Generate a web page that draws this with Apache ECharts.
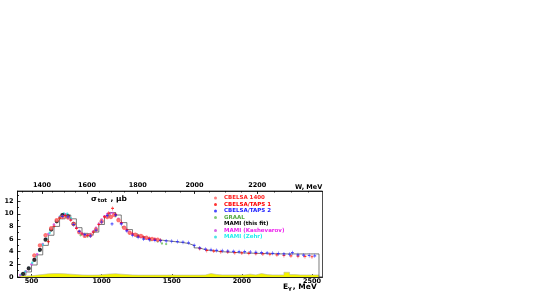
<!DOCTYPE html>
<html><head><meta charset="utf-8">
<script src="https://cdn.jsdelivr.net/npm/echarts@6/dist/echarts.min.js"></script>
<style>html,body{margin:0;padding:0;background:#fff}#c{width:548px;height:291px}</style>
</head><body><div id="c"></div>
<script>
// ---- axis ticks ----
const E_LABELS = [500, 1000, 1500, 2000, 2500];
const E_MINOR = [500,600,700,800,900,1000,1100,1200,1300,1400,1500,1600,1700,1800,1900,2000,2100,2200,2300,2400,2500];
const W_LABELS = [1400, 1600, 1800, 2000, 2200];
const W_MINOR = [1300,1350,1400,1450,1500,1550,1600,1650,1700,1750,1800,1850,1900,1950,2000,2050,2100,2150,2200,2250,2300,2350];
const Y_LABELS = [0, 2, 4, 6, 8, 10, 12];
const Y_MINOR = [1, 3, 5, 7, 9, 11, 13];

// ---- data (E_gamma MeV, sigma mub) ----
const kashE = [420,440,460,480,500,520,540,560,580,600,620,640,660,680,700,720,740,760,780,800,820,840,860,880,900,920,940,960,980,1000,1020,1040,1060,1080,1100,1120,1140,1160,1180,1200,1220,1240,1260,1280,1300,1320,1340,1360,1380,1400];
const kashV = [0.3,0.55,0.9,1.4,2.0,2.8,3.6,4.4,5.2,6.0,6.8,7.6,8.3,8.9,9.5,9.85,9.9,9.6,9.1,8.5,7.8,7.2,6.85,6.65,6.6,6.8,7.2,7.8,8.4,9.1,9.6,9.95,10.1,10.1,9.8,9.2,8.5,7.9,7.4,7.05,6.8,6.6,6.45,6.3,6.2,6.1,6.0,5.95,5.9,5.85];

const zehrE = [430,455,480,505,530,555,580,605,630,655,680,705,730,755,780];
const zehrV = [0.45,0.85,1.45,2.25,3.25,4.15,5.1,6.05,7.0,7.9,8.8,9.6,10.05,10.0,9.3];

const fitE = [440,480,520,560,600,640,680,720,760,800];
const fitV = [0.5,1.35,2.7,4.3,5.9,7.5,8.8,9.8,9.6,8.4];

const graalE = [700,750,800,850,900,950,1000,1050,1100,1150,1200,1250,1300,1350,1400,1430,1460];
const graalV = [9.3,9.6,8.2,6.6,6.4,7.2,8.7,9.8,9.6,7.9,6.9,6.4,6.1,5.8,5.6,5.3,5.2];

const cb1400E = [520,560,600,640,680,720,760,800,840,880,920,960,1000,1040,1066,1090,1120,1160,1200,1240,1280,1320,1360,1400];
const cb1400V = [3.4,5.0,6.6,7.7,9.0,9.5,9.4,8.4,7.1,6.5,6.6,7.5,8.8,9.5,9.5,9.8,9.0,7.8,7.0,6.7,6.5,6.2,6.0,5.9];

const taps1E = [620,660,700,740,780,820,860,900,940,980,1020,1050,1078,1100,1140,1180,1220,1260,1300,1340,1380,1420,1700,1750,1800,1850,1900,1950,2000,2050,2100,2150,2200,2250,2300,2350,2400,2450,2500];
const taps1V = [5.6,8.0,9.3,9.7,9.0,7.7,6.8,6.6,7.1,8.3,9.5,10.1,10.85,9.9,8.6,7.5,6.8,6.5,6.3,6.1,6.0,5.8,4.5,4.2,4.1,4.0,3.95,3.85,3.8,3.75,3.7,3.65,3.6,3.5,3.4,3.35,3.3,3.25,3.2];

const taps2E = [720,760,800,840,880,920,960,1000,1040,1074,1100,1140,1180,1220,1260,1300,1340,1380,1420,1460,1500,1540,1580,1620,1660,1700,1740,1780,1820,1860,1900,1940,1980,2020,2060,2100,2140,2180,2220,2260,2300,2340,2360,2400,2440,2480,2520];
const taps2V = [9.6,9.5,8.3,7.2,6.7,6.5,7.4,8.7,9.7,8.4,9.8,8.4,7.3,6.6,6.3,6.0,5.9,5.8,5.75,5.7,5.65,5.6,5.5,5.4,5.0,4.6,4.4,4.3,4.2,4.15,4.1,4.05,4.0,4.0,3.95,3.9,3.85,3.8,3.75,3.7,3.65,3.6,3.85,3.5,3.45,3.4,3.35];

const histE = [420,460,500,540,580,620,660,700,740,780,820,860,900,940,980,1020,1060,1100,1140,1180,1220,1260,1300,1340,1380,1420,1460,1500,1540,1580,1620,1660,1700,1740,1780,1820,1860,1900,1940,1980,2020,2060,2100,2140,2180,2220,2260,2300,2340,2380,2420,2460,2500,2550];
const histV = [0.3,0.8,1.9,3.5,5.0,6.6,8.0,9.2,9.8,9.2,7.8,6.9,6.6,7.1,8.3,9.5,10.2,9.8,8.6,7.5,6.8,6.4,6.15,6.0,5.85,5.75,5.65,5.55,5.45,5.3,5.0,4.6,4.3,4.2,4.1,4.0,3.95,3.9,3.85,3.8,3.78,3.75,3.72,3.7,3.68,3.66,3.65,3.65,3.65,3.65,3.65,3.65,3.65,0];

const sysE = [420,460,500,540,580,620,660,700,740,780,820,860,900,940,980,1020,1060,1100,1140,1180,1220,1260,1300,1340,1380,1420,1460,1500,1540,1580,1620,1660,1700,1740,1780,1820,1860,1900,1940,1980,2020,2060,2100,2140,2180,2220,2260,2300,2340,2380,2420,2460,2500,2550];
const sysV = [0.15,0.2,0.3,0.4,0.5,0.55,0.55,0.5,0.45,0.38,0.33,0.3,0.3,0.32,0.4,0.48,0.52,0.45,0.38,0.33,0.3,0.3,0.3,0.3,0.3,0.3,0.32,0.3,0.3,0.3,0.3,0.3,0.32,0.55,0.4,0.33,0.33,0.33,0.33,0.33,0.45,0.33,0.55,0.38,0.33,0.33,0.33,0.75,0.38,0.33,0.33,0.33,0.33,0];

// ---- helpers ----
const MP = 938.27;
const eOfW = w => (w * w - MP * MP) / (2 * MP);
const wOfE = e => Math.sqrt(MP * MP + 2 * MP * e);
const zip = (a, b) => a.map((x, i) => [x, b[i]]);

const FONT = 'DejaVu Sans';
const lab = { fontFamily: FONT, fontWeight: 'bold', fontSize: 6.5, color: '#000' };
const PLUS = 'path://M4,0h2v10h-2zM0,3.5h10v3h-10z';
const X0 = 400, X1 = 2575, Y1 = 13.6;

function baseX(extra) {
  return Object.assign({
    type: 'value', min: X0, max: X1, gridIndex: 0,
    splitLine: { show: false },
    axisLine: { show: false },
    axisLabel: { show: false },
    axisTick: { show: false }
  }, extra);
}

const option = {
  animation: false,
  backgroundColor: '#fff',
  grid: { left: 17.5, right: 225.5, top: 191, bottom: 14, show: true, borderColor: '#222', borderWidth: 0.8, backgroundColor: 'transparent' },
  title: [
    { left: 86, top: 189, text: '{a|σ}{s|tot}{a| , μb}',
      textStyle: { rich: {
        a: { fontFamily: FONT, fontWeight: 'bold', fontSize: 7.5, color: '#000', lineHeight: 10 },
        s: { fontFamily: FONT, fontWeight: 'bold', fontSize: 5.5, color: '#000', lineHeight: 10, padding: [3, 1, 0, 1] } } } },
    { left: 278, top: 277, text: '{a|E}{s|γ}{a|, MeV}',
      textStyle: { rich: {
        a: { fontFamily: FONT, fontWeight: 'bold', fontSize: 7.5, color: '#000', lineHeight: 10 },
        s: { fontFamily: FONT, fontWeight: 'bold', fontSize: 5.5, color: '#000', lineHeight: 10, padding: [3, 1, 0, 0] } } } },
    { left: 290, top: 179, text: 'W, MeV', textStyle: { fontFamily: FONT, fontWeight: 'bold', fontSize: 6.5, color: '#000' } }
  ],
  legend: {
    orient: 'vertical', left: 213, top: 195, itemWidth: 3, itemHeight: 3, itemGap: 0.5,
    padding: 0,
    itemStyle: { borderWidth: 0 },
    textStyle: { fontFamily: FONT, fontWeight: 'bold', fontSize: 5.5, lineHeight: 3.8, padding: [0, 0, 0, 2] },
    data: [
      { name: 'CBELSA 1400', icon: 'circle', itemStyle: { color: '#ff6060', borderWidth: 0 }, textStyle: { color: '#ff2020' } },
      { name: 'CBELSA/TAPS 1', icon: 'circle', itemStyle: { color: '#ff0000', borderWidth: 0 }, textStyle: { color: '#ff0000' } },
      { name: 'CBELSA/TAPS 2', icon: 'circle', itemStyle: { color: '#1a1aff', borderWidth: 0 }, textStyle: { color: '#1a1aff' } },
      { name: 'GRAAL', icon: 'circle', itemStyle: { color: '#66bb55', borderWidth: 0 }, textStyle: { color: '#55aa44' } },
      { name: 'MAMI (this fit)', icon: 'emptyCircle', itemStyle: { color: '#fff', borderColor: '#000', borderWidth: 0.6 }, textStyle: { color: '#000' } },
      { name: 'MAMI (Kashevarov)', icon: 'circle', itemStyle: { color: '#cc44dd', borderWidth: 0 }, textStyle: { color: '#ee22ee' } },
      { name: 'MAMI (Zehr)', icon: 'circle', itemStyle: { color: '#22dddd', borderWidth: 0 }, textStyle: { color: '#22eeee' } }
    ]
  },
  xAxis: [
    baseX({ position: 'bottom',
      axisLine: { show: true, lineStyle: { color: '#000', width: 0.8 } },
      axisTick: { show: true, inside: true, length: 3, customValues: E_LABELS, lineStyle: { color: '#000', width: 0.8 } },
      axisLabel: Object.assign({ show: true, margin: 1, customValues: E_LABELS, formatter: v => String(v) }, lab) }),
    baseX({ position: 'bottom',
      axisTick: { show: true, inside: true, length: 1.5, customValues: E_MINOR, lineStyle: { color: '#000', width: 0.8 } } }),
    baseX({ position: 'top',
      axisLine: { show: true, lineStyle: { color: '#000', width: 0.8 } },
      axisTick: { show: true, inside: true, length: 3, customValues: W_LABELS.map(eOfW), lineStyle: { color: '#000', width: 0.8 } },
      axisLabel: Object.assign({ show: true, margin: 2, customValues: W_LABELS.map(eOfW),
        formatter: v => String(Math.round(wOfE(v) / 10) * 10) }, lab) }),
    baseX({ position: 'top',
      axisTick: { show: true, inside: true, length: 1.5, customValues: W_MINOR.map(eOfW), lineStyle: { color: '#000', width: 0.8 } } })
  ],
  yAxis: [
    { type: 'value', min: 0, max: Y1, position: 'left',
      splitLine: { show: false },
      axisLine: { show: true, lineStyle: { color: '#000', width: 0.8 } },
      axisTick: { show: true, inside: true, length: 3, customValues: Y_LABELS, lineStyle: { color: '#000', width: 0.8 } },
      axisLabel: Object.assign({ show: true, margin: 4, customValues: Y_LABELS, formatter: v => String(v) }, lab) },
    { type: 'value', min: 0, max: Y1, position: 'left',
      splitLine: { show: false }, axisLine: { show: false }, axisLabel: { show: false },
      axisTick: { show: true, inside: true, length: 1.5, customValues: Y_MINOR, lineStyle: { color: '#000', width: 0.8 } } }
  ],
  series: [
    { type: 'line', name: 'sys', step: 'end', data: zip(sysE, sysV), symbol: 'none',
      lineStyle: { color: '#b8b8a0', width: 0.6 }, areaStyle: { color: '#f4f400', opacity: 1 }, z: 2 },
    { type: 'line', name: 'hist', step: 'end', data: zip(histE, histV), symbol: 'none',
      lineStyle: { color: '#444', width: 0.7 }, z: 3 },
    { type: 'scatter', name: 'MAMI (Kashevarov)', data: zip(kashE, kashV), symbol: 'circle', symbolSize: 2.6,
      itemStyle: { color: '#cc44dd' }, z: 4 },
    { type: 'scatter', name: 'MAMI (Zehr)', data: zip(zehrE, zehrV), symbol: 'circle', symbolSize: 2.4,
      itemStyle: { color: '#22dddd' }, z: 4 },
    { type: 'scatter', name: 'MAMI (this fit)', data: zip(fitE, fitV), symbol: 'emptyCircle', symbolSize: 2.2,
      itemStyle: { color: '#000', borderWidth: 0.5 }, z: 4 },
    { type: 'scatter', name: 'GRAAL', data: zip(graalE, graalV), symbol: 'circle', symbolSize: 2.3,
      itemStyle: { color: '#66bb55' }, z: 5 },
    { type: 'scatter', name: 'CBELSA 1400', data: zip(cb1400E, cb1400V), symbol: 'emptyCircle', symbolSize: 2.4,
      itemStyle: { color: '#ff5050', borderWidth: 0.6 }, z: 5 },
    { type: 'scatter', name: 'CBELSA/TAPS 1', data: zip(taps1E, taps1V), symbol: PLUS, symbolSize: [2.8, 4],
      itemStyle: { color: '#ff0000' }, z: 6 },
    { type: 'scatter', name: 'CBELSA/TAPS 2', data: zip(taps2E, taps2V), symbol: PLUS, symbolSize: [2.8, 4],
      itemStyle: { color: '#1a1aff' }, z: 7 }
  ]
};
option.series.forEach(s => { s.xAxisIndex = 0; s.yAxisIndex = 0; });
const chart = echarts.init(document.getElementById('c'), null, { renderer: 'canvas' });
chart.setOption(option);
</script></body></html>
